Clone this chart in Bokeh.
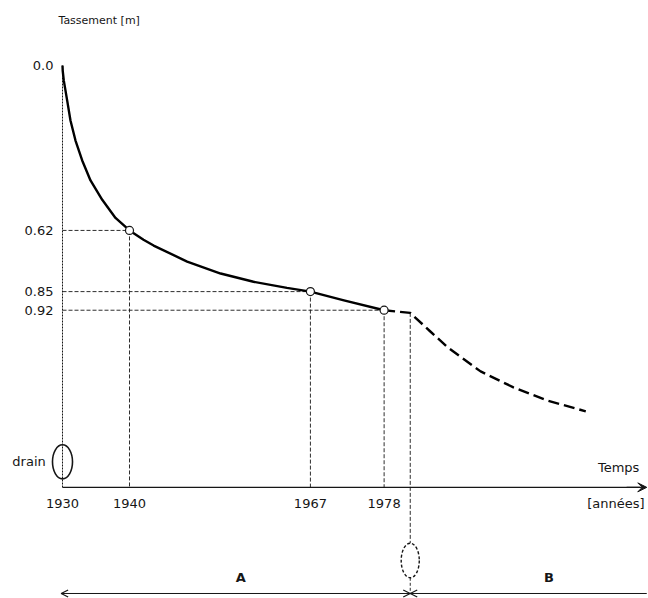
from bokeh.plotting import figure
from bokeh.models import Range1d, Arrow, VeeHead, OpenHead
from bokeh.core.properties import value
from bokeh.embed import file_html
from bokeh.resources import INLINE

# ---- data ----
# settlement curve (measured, solid)
solid_years = [1930, 1930.03, 1930.19, 1930.7, 1931.19, 1931.94, 1932.94, 1934.18, 1935.93,
               1937.91, 1940, 1942.09, 1943.6, 1948.6, 1953.6, 1958.5, 1963.5, 1967, 1972, 1978]
solid_values = [0.0, 0.019, 0.056, 0.132, 0.207, 0.282, 0.357, 0.432, 0.505,
                0.573, 0.62, 0.655, 0.677, 0.737, 0.782, 0.813, 0.836, 0.85, 0.883, 0.92]
# predicted curve (dashed)
dashed_years = [1978, 1981.9, 1984.9, 1987.5, 1992.4, 1997.3, 2002.4, 2008.1]
dashed_values = [0.92, 0.93, 1.00, 1.06, 1.15, 1.21, 1.26, 1.30]

# marked points
point_years = [1940, 1967, 1978]
point_values = [0.62, 0.85, 0.92]

# ticks
y_tick_values = [0.0, 0.62, 0.85, 0.92]
y_tick_labels = ["0.0", "0.62", "0.85", "0.92"]
x_tick_years = [1930, 1940, 1967, 1978]
x_tick_labels = ["1930", "1940", "1967", "1978"]

drain_year = 1930
second_drain_year = 1981.9
kink_value = 0.93

x_axis_level = 1.586
x_axis_end = 2017.2
bottom_level = 1.985
phase_labels = ["A", "B"]
phase_x = [1956.6, 2002.6]

INK = "#161616"
FONT = value("DejaVu Sans")

p = figure(width=648, height=598, output_backend="svg", toolbar_location=None,
           x_range=Range1d(1920.746, 2017.46), y_range=Range1d(2.0038, -0.2444),
           x_axis_type=None, y_axis_type=None, min_border=0)
p.outline_line_color = None
p.xgrid.visible = False
p.ygrid.visible = False
p.background_fill_color = "white"
p.border_fill_color = "white"

# axes
p.segment(x0=[drain_year], y0=[0.0], x1=[drain_year], y1=[x_axis_level],
          line_color=INK, line_width=1, line_dash="2 1")
p.segment(x0=[drain_year], y0=[x_axis_level], x1=[x_axis_end - 1], y1=[x_axis_level],
          line_color=INK, line_width=1.2)
p.add_layout(Arrow(end=VeeHead(size=9, fill_color=INK, line_color=INK, line_width=1),
                   x_start=x_axis_end - 3, y_start=x_axis_level, x_end=x_axis_end, y_end=x_axis_level,
                   line_color=INK, line_width=1.2))

# guide lines
p.segment(x0=[drain_year] * 3, y0=point_values, x1=point_years, y1=point_values,
          line_color=INK, line_width=0.9, line_dash="4 2")
p.segment(x0=point_years, y0=point_values, x1=point_years, y1=[x_axis_level] * 3,
          line_color=INK, line_width=0.9, line_dash="4 2")
# vertical at change of drain
p.segment(x0=[second_drain_year], y0=[kink_value], x1=[second_drain_year], y1=[1.796],
          line_color=INK, line_width=0.9, line_dash="4 2")
p.segment(x0=[second_drain_year], y0=[1.926], x1=[second_drain_year], y1=[bottom_level],
          line_color=INK, line_width=0.9, line_dash="3 2")

# curves
p.line(solid_years, solid_values, line_color="black", line_width=2.4, line_join="round")
p.line(dashed_years, dashed_values, line_color="black", line_width=2.4, line_dash="11 5",
       line_join="round")

# points
p.scatter(point_years, point_values, size=8, marker="circle",
          fill_color="white", line_color=INK, line_width=1.2)

# drains
p.ellipse(x=[drain_year], y=[1.49], width=2.99, height=0.128,
          fill_color=None, line_color=INK, line_width=1.6)
p.ellipse(x=[second_drain_year], y=[1.861], width=2.7, height=0.13,
          fill_color=None, line_color=INK, line_width=1.4, line_dash="3 2")

# bottom phase arrows
p.add_layout(Arrow(start=OpenHead(size=7, line_color=INK, line_width=1.2),
                   end=OpenHead(size=7, line_color=INK, line_width=1.2),
                   x_start=1929.8, y_start=bottom_level, x_end=second_drain_year, y_end=bottom_level,
                   line_color=INK, line_width=1))
p.add_layout(Arrow(start=OpenHead(size=7, line_color=INK, line_width=1.2), end=None,
                   x_start=second_drain_year, y_start=bottom_level, x_end=x_axis_end, y_end=bottom_level,
                   line_color=INK, line_width=1))
p.text(x=phase_x, y=[1.925] * 2, text=phase_labels, text_font=FONT, text_font_size="13px",
       text_font_style="bold", text_align="center", text_baseline="middle", text_color=INK)

# tick labels
p.text(x=[1928.66] * 4, y=y_tick_values, text=y_tick_labels, text_font=FONT, text_font_size="13px",
       text_align="right", text_baseline="middle", text_color=INK)
p.text(x=x_tick_years, y=[1.647] * 4, text=x_tick_labels, text_font=FONT, text_font_size="13px",
       text_align="center", text_baseline="middle", text_color=INK)

# axis titles
p.text(x=[1929.4], y=[-0.169], text=["Tassement [m]"], text_font=FONT, text_font_size="11px",
       text_align="left", text_baseline="middle", text_color=INK)
p.text(x=[2013.0], y=[1.51], text=["Temps"], text_font=FONT, text_font_size="13px",
       text_align="center", text_baseline="middle", text_color=INK)
p.text(x=[2012.6], y=[1.647], text=["[années]"], text_font=FONT, text_font_size="13px",
       text_align="center", text_baseline="middle", text_color=INK)
p.text(x=[1927.5], y=[1.49], text=["drain"], text_font=FONT, text_font_size="13px",
       text_align="right", text_baseline="middle", text_color=INK)

open("out.html", "w").write(file_html(p, INLINE))
